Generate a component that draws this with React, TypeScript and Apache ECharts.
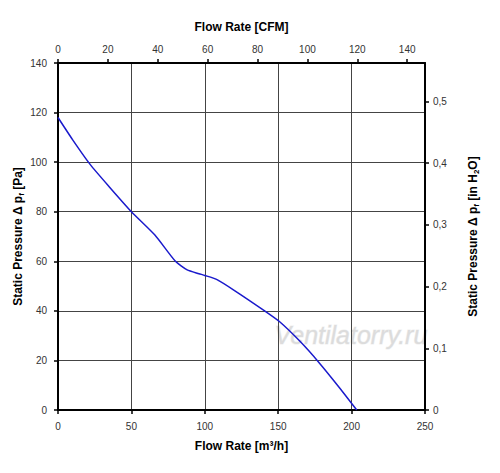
import React, { useEffect, useRef } from "react";
import * as echarts from "echarts";

// Flow rate [m³/h] and static pressure [Pa]
const flowRate = [0, 10, 22, 35, 50, 66, 80, 88, 96, 100, 108, 120, 140, 151, 165, 178, 192, 203.5];
const pressure = [118, 109, 99, 90, 80, 70.6, 60, 56.5, 55, 54.3, 52.7, 48.3, 40.3, 35.6, 27.6, 19, 8.8, 0];

const M3H_PER_CFM = 1.699;
const PA_PER_INH2O = 249.089;
const X_MAX = 250;
const Y_MAX = 140;

export default function App() {
  const ref = useRef<HTMLDivElement>(null);
  useEffect(() => {
    if (!ref.current) return;
    const chart = echarts.init(ref.current, undefined, { renderer: "svg" });
    const font = "Liberation Sans, Arial, sans-serif";
    const labelStyle = { fontFamily: font, fontSize: 10, color: "#333" };
    const nameStyle = {
      fontFamily: font,
      fontSize: 12,
      fontWeight: "bold" as const,
      color: "#000",
      rich: {
        m: { fontFamily: font, fontSize: 12, fontWeight: "bold", color: "#000", lineHeight: 14 },
        s: { fontFamily: font, fontSize: 8, fontWeight: "bold", color: "#000", lineHeight: 14, verticalAlign: "bottom", padding: [6, 0, 0, 0] },
      },
    };
    const axisLine = { show: true, onZero: false, lineStyle: { color: "#000", width: 2 } };
    const axisTick = { show: true, inside: false, length: 4, lineStyle: { color: "#000", width: 1.5 } };
    const gridLine = { show: true, lineStyle: { color: "#444", width: 1 } };
    chart.setOption({
      animation: false,
      backgroundColor: "#fff",
      grid: { left: 58, right: 75, top: 63, bottom: 63, containLabel: false, outerBoundsMode: "none" },
      xAxis: [
        {
          type: "value",
          position: "bottom",
          min: 0,
          max: X_MAX,
          interval: 50,
          name: "Flow Rate [m³/h]",
          nameLocation: "middle",
          nameGap: 30,
          nameMoveOverlap: false,
          nameTextStyle: nameStyle,
          axisLine,
          axisTick,
          axisLabel: { ...labelStyle, margin: 11 },
          splitLine: gridLine,
        },
        {
          type: "value",
          position: "top",
          min: 0,
          max: X_MAX / M3H_PER_CFM,
          interval: 20,
          name: "Flow Rate [CFM]",
          nameLocation: "middle",
          nameGap: 30,
          nameMoveOverlap: false,
          nameTextStyle: nameStyle,
          axisLine,
          axisTick,
          axisLabel: { ...labelStyle, margin: 9, showMaxLabel: false },
          splitLine: { show: false },
        },
      ],
      yAxis: [
        {
          type: "value",
          position: "left",
          min: 0,
          max: Y_MAX,
          interval: 20,
          name: "{m|Static Pressure Δ p}{s|f}{m| [Pa]}",
          nameLocation: "middle",
          nameGap: 33,
          nameMoveOverlap: false,
          nameRotate: 90,
          nameTextStyle: nameStyle,
          axisLine,
          axisTick,
          axisLabel: { ...labelStyle, margin: 11 },
          splitLine: gridLine,
        },
        {
          type: "value",
          position: "right",
          min: 0,
          max: Y_MAX / PA_PER_INH2O,
          interval: 0.1,
          name: "{m|Static Pressure Δ p}{s|f}{m| [in H}{s|2}{m|O]}",
          nameLocation: "middle",
          nameGap: 41,
          nameMoveOverlap: false,
          nameRotate: 90,
          nameTextStyle: nameStyle,
          axisLine,
          axisTick,
          axisLabel: {
            ...labelStyle,
            margin: 8,
            showMaxLabel: false,
            formatter: (v: number) => (v === 0 ? "0" : v.toFixed(1).replace(".", ",")),
          },
          splitLine: { show: false },
        },
      ],
      graphic: [
        {
          type: "text",
          left: 274,
          top: 322,
          z: 0,
          style: {
            text: "Ventilatorry.ru",
            fontFamily: font,
            fontStyle: "italic",
            fontSize: 25,
            fill: "#dcdcdc",
            stroke: "#f0f0f0",
            lineWidth: 1,
          },
        },
      ],
      series: [
        {
          type: "line",
          xAxisIndex: 0,
          yAxisIndex: 0,
          data: flowRate.map((x, i) => [x, pressure[i]]),
          showSymbol: false,
          symbol: "none",
          smooth: 0.2,
          lineStyle: { color: "#1a1acc", width: 1.5 },
          z: 5,
        },
      ],
    });
    return () => chart.dispose();
  }, []);
  return <div ref={ref} style={{ position: "fixed", left: 0, top: 0, width: 500, height: 473 }} />;
}
